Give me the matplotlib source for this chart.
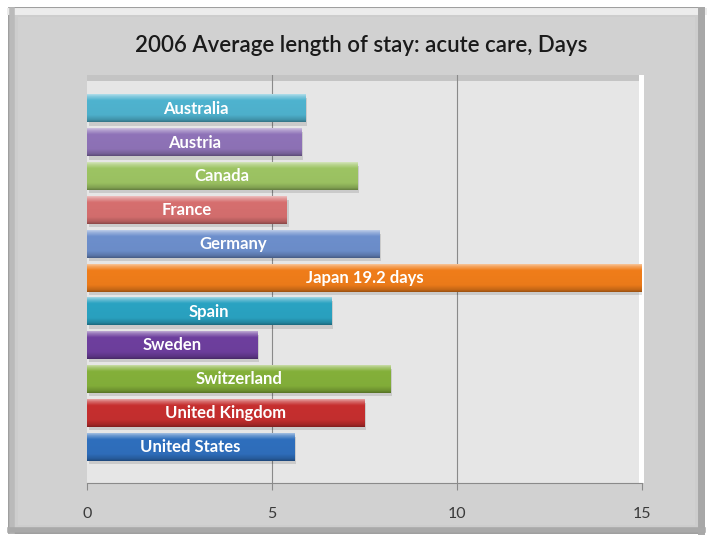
import numpy as np
import matplotlib.pyplot as plt
from matplotlib.patches import Rectangle
from matplotlib.colors import to_rgb

countries = ["Australia", "Austria", "Canada", "France", "Germany", "Japan",
             "Spain", "Sweden", "Switzerland", "United Kingdom", "United States"]
days = [5.9, 5.8, 7.3, 5.4, 7.9, 19.2, 6.6, 4.6, 8.2, 7.5, 5.6]
bar_labels = ["Australia", "Austria", "Canada", "France", "Germany", "Japan 19.2 days",
              "Spain", "Sweden", "Switzerland", "United Kingdom", "United States"]
colors = ["#4fb3cf", "#8f73b8", "#9dc463", "#d66f6f", "#6d8fcc", "#f07d1a",
          "#2aa3c2", "#6e3f9e", "#84b03a", "#c62f2f", "#2f6fbd"]
xticks = [0, 5, 10, 15]
title = "2006 Average length of stay: acute care, Days"

plt.rcParams["font.family"] = ["Lato", "DejaVu Sans"]

fig = plt.figure(figsize=(7.12, 5.37), dpi=100)
fig.patch.set_facecolor("white")

# bevelled grey frame behind the chart
W, H = 712, 537
def fx(px):
    return px / W
def fy(py):
    return 1 - py / H

fig.patches.append(Rectangle((fx(9), fy(533)), fx(704) - fx(9), fy(8) - fy(533),
                             transform=fig.transFigure, facecolor="#cdcdcd",
                             edgecolor="#8c8c8c", linewidth=1.2, zorder=-3))
fig.patches.append(Rectangle((fx(18), fy(525)), fx(695) - fx(18), fy(17) - fy(525),
                             transform=fig.transFigure, facecolor="#d1d1d1",
                             edgecolor="none", zorder=-2))
# light bevel top/left, dark bevel bottom/right
bevels = [([10, 703], [11, 11], "#ececec", 5),
          ([12, 12], [10, 531], "#bababa", 4),
          ([701, 701], [10, 531], "#a8a8a8", 5),
          ([10, 703], [530, 530], "#a9a9a9", 4)]
for xs, ys, col, lw in bevels:
    fig.add_artist(plt.Line2D([fx(v) for v in xs], [fy(v) for v in ys],
                              transform=fig.transFigure, color=col, lw=lw, zorder=-1))

fig.text(fx(361), fy(46), title, ha="center", va="center", fontsize=16,
         color="#1a1a1a", fontweight="semibold")

ax = fig.add_axes([fx(87), fy(483), fx(642) - fx(87), fy(75) - fy(483)])
ax.set_facecolor("#e6e6e6")
y = np.arange(len(countries))

# top shadow and right highlight of the plot area
ax.add_patch(Rectangle((0, 0.985), 1, 0.015, transform=ax.transAxes,
                       facecolor="#c4c4c4", edgecolor="none", zorder=0.5, clip_on=False))
ax.add_patch(Rectangle((0.995, 0), 0.008, 1, transform=ax.transAxes,
                       facecolor="white", edgecolor="none", zorder=0.5, clip_on=False))

for gx in xticks[1:-1]:
    ax.axvline(gx, color="#8a8a8a", lw=0.8, zorder=1)

h = 0.81
bars = ax.barh(y, days, height=h, color=colors, zorder=3)

def shade(c, t):
    c = np.array(to_rgb(c))
    if t < 0:
        return c + (1 - c) * (-t)
    return c * (1 - t)

xmax = xticks[-1]
for i, (b, c) in enumerate(zip(bars, colors)):
    v = min(days[i], xmax)
    # soft shadow under each bar
    ax.add_patch(Rectangle((0.05, y[i] - h / 2 + 0.1), v, h, facecolor="#000000",
                           alpha=0.12, edgecolor="none", zorder=2))
    stops = np.array([0, 0.08, 0.22, 0.75, 0.92, 1.0])
    cols = np.array([shade(c, -0.55), shade(c, -0.3), shade(c, 0), shade(c, 0.02),
                     shade(c, 0.18), shade(c, 0.35)])
    tt = np.linspace(0, 1, 64)
    grad = np.stack([np.interp(tt, stops, cols[:, k]) for k in range(3)], axis=-1)
    ax.imshow(grad[:, None, :], extent=[0, v, y[i] + h / 2, y[i] - h / 2],
              aspect="auto", zorder=4, interpolation="bilinear")
    ax.text(v / 2, y[i], bar_labels[i], ha="center", va="center", color="white",
            fontsize=12, fontweight="bold", zorder=5)

ax.set_xlim(0, xmax)
ax.set_ylim(len(countries) - 1 + 1.07, -1.0)
ax.set_xticks(xticks)
ax.set_xticklabels([str(t) for t in xticks])
ax.set_yticks([])
ax.tick_params(axis="x", length=5, color="#8a8a8a", pad=12, labelsize=11.5,
               labelcolor="#3a3a3a")
for s in ["top", "right", "left"]:
    ax.spines[s].set_visible(False)
ax.spines["bottom"].set_color("#8a8a8a")
ax.spines["bottom"].set_linewidth(0.8)

fig.savefig("out.png", dpi=100)
